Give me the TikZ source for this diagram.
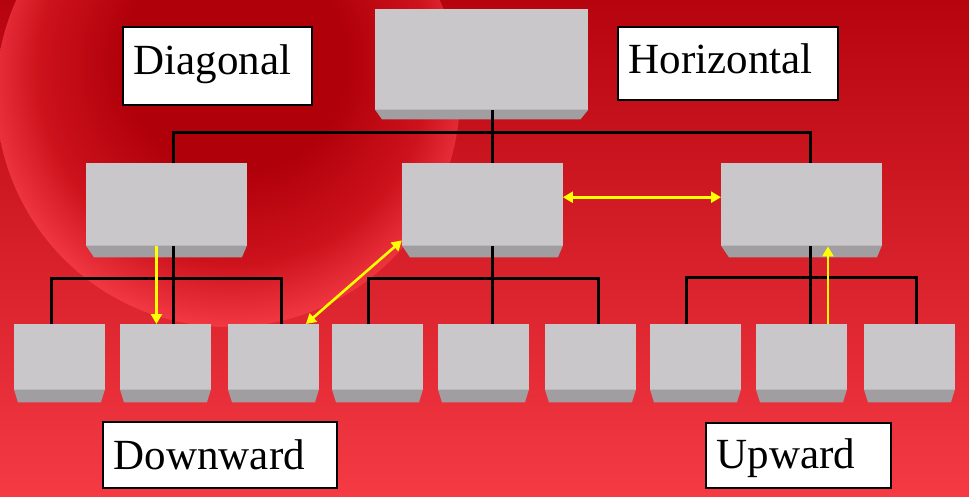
\documentclass[tikz,border=0pt]{standalone}
\usepackage{fontspec}
\setmainfont{Liberation Serif}
\usetikzlibrary{arrows.meta,calc}
\definecolor{bgtop}{RGB}{182,4,14}
\definecolor{bgbot}{RGB}{245,58,68}
\definecolor{dA}{RGB}{176,0,10}
\definecolor{dB}{RGB}{205,18,28}
\definecolor{dC}{RGB}{246,62,72}
\definecolor{boxface}{RGB}{201,199,201}
\definecolor{boxbevel}{RGB}{160,158,160}
\definecolor{arrowyellow}{RGB}{255,255,0}
\pgfdeclareradialshading{discshade}{\pgfpoint{1bp}{5bp}}{color(0bp)=(dA); color(12bp)=(dA); color(21bp)=(dB); color(28bp)=(dC); color(50bp)=(dC)}
\tikzset{
  face/.style={rectangle, fill=boxface, draw=none, inner sep=0pt, anchor=north west},
  topbox/.style={face, minimum width=213pt, minimum height=101pt},
  midbox/.style={face, minimum width=160.5pt, minimum height=83pt},
  leafbox/.style={face, minimum width=90.5pt, minimum height=66pt},
  tree/.style={draw=black, line width=3pt},
  yarrow/.style={draw=arrowyellow, line width=2.6pt, arrows={-Triangle[length=10pt,width=11pt]}},
  ydouble/.style={yarrow, arrows={Triangle[length=10pt,width=11pt]-Triangle[length=10pt,width=11pt]}},
  lbl/.style={rectangle, draw=black, line width=1.6pt, fill=white, inner xsep=11pt, inner ysep=0pt,
    anchor=north west, align=left, font=\fontsize{43pt}{43pt}\selectfont},
}
\newcommand\mybevel[4]{%
  \fill[boxbevel] ([yshift=0.8pt]#1.south west) -- ([yshift=0.8pt]#1.south east) -- ([xshift=-#3pt,yshift=-#4pt]#1.south east)
    -- ([xshift=#2pt,yshift=-#4pt]#1.south west) -- cycle;}
\begin{document}
\begin{tikzpicture}[x=1pt,y=-1pt]
\useasboundingbox (0,0) rectangle (969,496);
\clip (0,0) rectangle (969,496);
% background
\fill[top color=bgtop, bottom color=bgbot] (0,0) rectangle (969,496);
\shade[shading=discshade] (228,95) circle[radius=232];
% boxes
\node[topbox] (T) at (375,9) {};
\mybevel{T}{7}{8}{9}
\node[midbox] (L) at (86,163) {};
\node[midbox] (M) at (402,163) {};
\node[midbox] (R) at (721,163) {};
\foreach \n in {L,M,R}{\mybevel{\n}{8}{5}{11}}
\foreach \n/\x in {b1/14,b2/120,b3/228,b4/332,b5/438,b6/545,b7/650,b8/756,b9/864}{
  \node[leafbox] (\n) at (\x,324) {};
  \mybevel{\n}{4}{4}{12}
}
% junction coordinates
\coordinate (t1) at (173,132);
\coordinate (j0) at (492,132);
\coordinate (t3) at (810,132);
\coordinate (l1) at (51,278);
\coordinate (jL) at (173,278);
\coordinate (l3) at (281,278);
\coordinate (m1) at (368,278);
\coordinate (jM) at (492,278);
\coordinate (m3) at (598,278);
\coordinate (r1) at (686,277);
\coordinate (jR) at (810,277);
\coordinate (r3) at (916,277);
% tree connectors
\draw[tree] (T.south -| j0) -- (M.north -| j0);
\draw[tree] (L.north -| t1) -- (t1) -- (t3) -- (R.north -| t3);
\draw[tree] (L.south -| jL) -- (b2.north -| jL);
\draw[tree] (b1.north -| l1) -- (l1) -- (l3) -- (b3.north -| l3);
\draw[tree] (M.south -| jM) -- (b5.north -| jM);
\draw[tree] (b4.north -| m1) -- (m1) -- (m3) -- (b6.north -| m3);
\draw[tree] (R.south -| jR) -- (b8.north -| jR);
\draw[tree] (b7.north -| r1) -- (r1) -- (r3) -- (b9.north -| r3);
% yellow arrows
\draw[ydouble] ([yshift=7.5pt]M.east) -- ([yshift=7.5pt]R.west);
\draw[ydouble] ([xshift=-13pt]b3.north east) -- ([yshift=6pt]M.south west);
\coordinate (dA) at ([xshift=-10pt]L.south);
\draw[yarrow] (dA) -- (dA |- b2.north);
\coordinate (uA) at ([xshift=26.5pt]b8.north);
\draw[yarrow] (uA) -- (uA |- R.south);
% labels
\node[lbl, text width=167pt, text height=48pt, text depth=30pt] (diag) at (122,26) {Diagonal};
\node[lbl, text width=198pt, text height=47pt, text depth=26pt] (horiz) at (617,26) {Horizontal};
\node[lbl, text width=212pt, text height=48pt, text depth=18pt] (down) at (102,421) {Downward};
\node[lbl, text width=163pt, text height=46pt, text depth=19pt] (up) at (705,422) {Upward};
\end{tikzpicture}
\end{document}
